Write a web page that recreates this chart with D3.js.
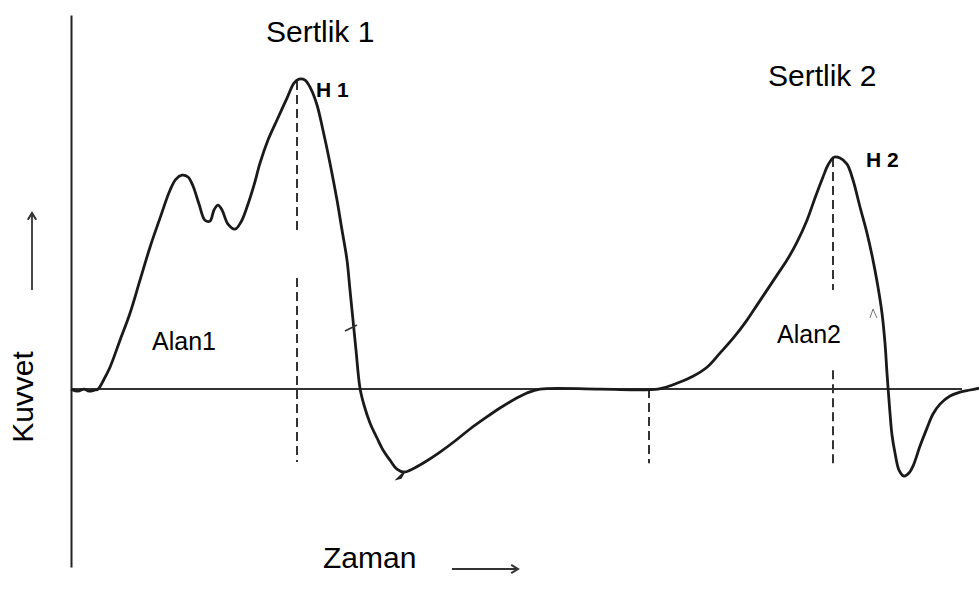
<!DOCTYPE html>
<html>
<head>
<meta charset="utf-8">
<script src="https://cdn.jsdelivr.net/npm/d3@7"></script>
<style>
  html, body { margin: 0; padding: 0; background: #fff; }
  svg { display: block; }
  text { font-family: "Liberation Sans", Arial, sans-serif; fill: #000; }
</style>
</head>
<body>
<div id="chart"></div>
<script>
// force-time curve (time in s-ish units, force in arbitrary units)
const timeVals = [0, 0.7, 1.3, 1.8, 2.4, 2.7, 3.3, 3.9, 4.9, 5.9, 6.9, 7.9, 8.9, 9.9, 10.5, 11.1, 11.7, 12.2,
  12.8, 13.4, 13.9, 14.3, 14.7, 15.1, 15.7, 16.4, 17.0, 17.6, 18.3, 18.9, 19.7, 20.6, 21.6, 22.3, 22.8, 23.4,
  24.0, 24.6, 25.2, 25.9, 26.6, 27.1, 27.6, 27.9, 28.2, 28.5, 28.9, 29.3, 29.9, 30.6, 31.2, 31.9, 32.6, 33.3,
  34.1, 35.4, 36.9, 38.4, 39.9, 41.4, 42.9, 44.4, 45.6, 46.9, 52.9, 58.7, 60.4, 62.2, 63.6, 64.9, 66.3, 67.6,
  68.6, 69.6, 70.6, 71.6, 72.6, 73.6, 74.4, 75.2, 75.7, 76.3, 76.9, 77.6, 78.2, 78.9, 79.6, 80.2, 80.7, 81.1,
  81.4, 81.6, 81.9, 82.1, 82.4, 82.8, 83.3, 83.8, 84.2, 84.9, 85.6, 86.2, 86.9, 87.9, 88.9, 89.9, 90.8];
const forceVals = [0, -0.7, 0, -0.7, -0.3, 0, 3.3, 7.3, 16.3, 25.3, 36.3, 47.3, 57, 66.3, 70, 71.3, 70.7, 67.7,
  61.7, 56.3, 56, 59.7, 61.3, 59.7, 55, 53.3, 55.7, 60.7, 68, 75.3, 83, 89.7, 97, 102, 103.3, 103,
  100, 94.7, 86.3, 75.3, 63, 53, 43, 33, 23, 13, 0.3, -5.3, -11.3, -16.3, -20.3, -23.7, -26.7, -27.7,
  -26.7, -24.3, -21, -17.3, -13.3, -9.7, -6.3, -3.3, -1.3, 0, 0, 0, 1.7, 4.3, 7.3, 12, 17.3, 23,
  28, 33, 38, 43, 49, 56.3, 63.7, 70.7, 74.7, 77.3, 77, 75, 69.7, 60.7, 52, 43, 34, 25.3,
  15.3, 5.3, -8, -15.3, -21.3, -27, -29, -28, -25.7, -19, -13, -8.3, -5, -2.3, -1, -0.3, 0.3];

// dashed guide lines: time, [force from, force to] pieces
const guideTimes = [22.6, 57.8, 76.2];
const guidePieces = [
  [[102.7, 53], [37, -24.3]],
  [[0, -24.7]],
  [[77, 33], [6.3, -24.7]]
];
const baselineEnd = 89.1;

const peakLabels = ["Sertlik 1", "Sertlik 2"];
const peakTags = ["H 1", "H 2"];
const areaLabels = ["Alan1", "Alan2"];
const xTitle = "Zaman";
const yTitle = "Kuvvet";

const width = 979, height = 595;

const svg = d3.select("#chart").append("svg")
  .attr("width", width)
  .attr("height", height);

const x = d3.scaleLinear().domain([0, 90.8]).range([71, 979]);
const y = d3.scaleLinear().domain([-59.3, 124.7]).range([567, 15]);

// axes: plain lines, no ticks
svg.append("g")
  .attr("transform", `translate(${x(0)},0)`)
  .call(d3.axisLeft(y).tickValues([]).tickSizeOuter(0))
  .select(".domain")
  .attr("stroke", "#222")
  .attr("stroke-width", 2);

svg.append("line")
  .attr("x1", x(0)).attr("x2", x(baselineEnd))
  .attr("y1", y(0)).attr("y2", y(0))
  .attr("stroke", "#333")
  .attr("stroke-width", 2);

// dashed guides
guideTimes.forEach((t, i) => {
  guidePieces[i].forEach(([f0, f1]) => {
    svg.append("line")
      .attr("x1", x(t)).attr("x2", x(t))
      .attr("y1", y(f0)).attr("y2", y(f1))
      .attr("stroke", "#333")
      .attr("stroke-width", 2)
      .attr("stroke-dasharray", "9,5");
  });
});

// curve
const pts = timeVals.map((t, i) => [t, forceVals[i]]);
const line = d3.line()
  .x(d => x(d[0]))
  .y(d => y(d[1]))
  .curve(d3.curveCatmullRom.alpha(0.5));

svg.append("path")
  .datum(pts)
  .attr("d", line)
  .attr("fill", "none")
  .attr("stroke", "#1a1a1a")
  .attr("stroke-width", 2.8)
  .attr("stroke-linejoin", "round");

// little marks drawn on the original trace
svg.append("line")
  .attr("x1", 345).attr("y1", 331).attr("x2", 357).attr("y2", 325)
  .attr("stroke", "#333").attr("stroke-width", 1.8);
svg.append("path")
  .attr("d", "M397,479 L405,471 L401,478 Z")
  .attr("fill", "#222").attr("stroke", "#222").attr("stroke-width", 1.5);
svg.append("path")
  .attr("d", "M870,318 L873,309 L877,318")
  .attr("fill", "none").attr("stroke", "#777").attr("stroke-width", 1);

// labels
svg.append("text").attr("x", 266).attr("y", 42).attr("font-size", 30).text(peakLabels[0]);
svg.append("text").attr("x", 768).attr("y", 86).attr("font-size", 30).text(peakLabels[1]);
svg.append("text").attr("x", 316).attr("y", 97).attr("font-size", 21).attr("font-weight", "bold").text(peakTags[0]);
svg.append("text").attr("x", 866).attr("y", 167).attr("font-size", 21).attr("font-weight", "bold").text(peakTags[1]);
svg.append("text").attr("x", 152).attr("y", 350).attr("font-size", 25).text(areaLabels[0]);
svg.append("text").attr("x", 777).attr("y", 343).attr("font-size", 25).text(areaLabels[1]);
svg.append("text").attr("x", 323).attr("y", 568).attr("font-size", 30).text(xTitle);
svg.append("text")
  .attr("transform", "translate(33,397) rotate(-90)")
  .attr("text-anchor", "middle")
  .attr("font-size", 30)
  .text(yTitle);

// direction arrows
const arrow = (x1, y1, x2, y2) => {
  svg.append("line")
    .attr("x1", x1).attr("y1", y1).attr("x2", x2).attr("y2", y2)
    .attr("stroke", "#333").attr("stroke-width", 1.8);
  const a = Math.atan2(y2 - y1, x2 - x1), s = 8;
  const p = d3.path();
  p.moveTo(x2 - s * Math.cos(a - 0.55), y2 - s * Math.sin(a - 0.55));
  p.lineTo(x2, y2);
  p.lineTo(x2 - s * Math.cos(a + 0.55), y2 - s * Math.sin(a + 0.55));
  svg.append("path").attr("d", p.toString())
    .attr("fill", "none").attr("stroke", "#333").attr("stroke-width", 2);
};
arrow(32, 290, 32, 213);
arrow(452, 569, 518, 569);
</script>
</body>
</html>
